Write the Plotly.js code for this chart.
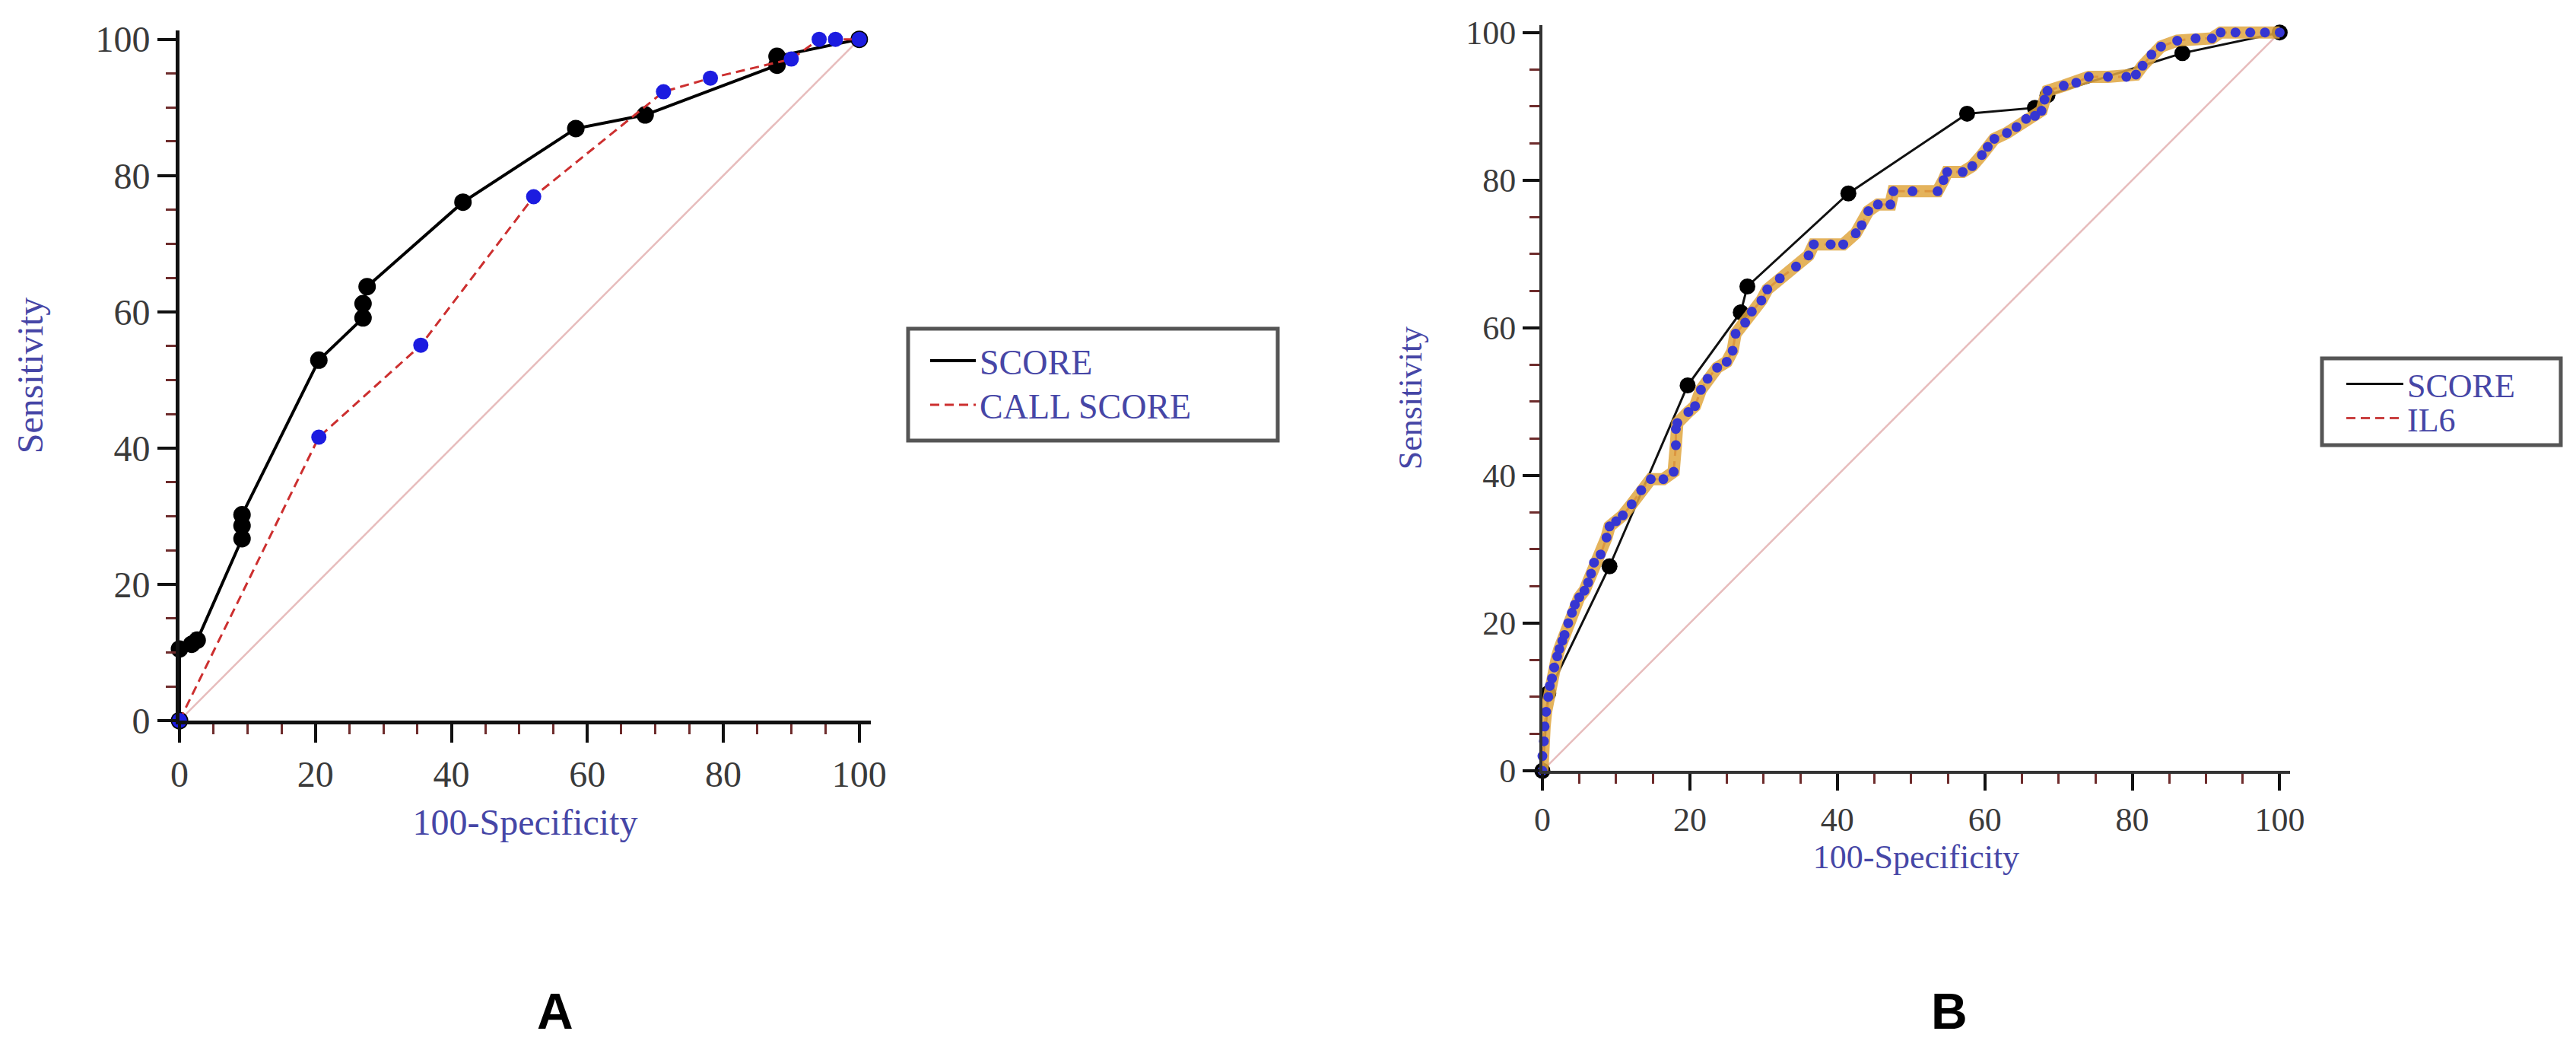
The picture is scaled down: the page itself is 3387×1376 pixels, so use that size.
<!DOCTYPE html>
<html>
<head>
<meta charset="utf-8">
<script src="https://cdn.plot.ly/plotly-3.0.1.min.js"></script>
<style>html,body{margin:0;padding:0;background:#fff;}#chart{width:3387px;height:1376px;}</style>
</head>
<body>
<div id="chart"></div>
<script>
// ---------- Panel A data ----------
const diagX = [0, 100];
const diagY = [0, 100];

const scoreAX = [0, 0, 1.8, 2.6, 9.2, 9.2, 9.2, 20.5, 27.0, 27.0, 27.6, 41.7, 58.3, 68.5, 87.9, 87.9, 100];
const scoreAY = [0, 10.5, 11.2, 11.8, 26.7, 28.6, 30.2, 52.9, 59.1, 61.2, 63.7, 76.1, 86.9, 88.9, 96.2, 97.5, 100];

const callX = [0, 20.5, 35.5, 52.1, 71.2, 78.1, 90.0, 94.1, 96.5, 100];
const callY = [0, 41.6, 55.1, 76.9, 92.3, 94.3, 97.1, 100, 100, 100];

// ---------- Panel B data ----------
const scoreBX = [0, 0.8, 9.1, 19.7, 26.9, 27.8, 41.5, 57.6, 66.8, 68.5, 86.8, 100];
const scoreBY = [0, 10.5, 27.7, 52.2, 62.1, 65.6, 78.2, 89.0, 89.8, 91.5, 97.2, 100];

const il6X = [0, 0, 0.2, 0.3, 0.5, 0.8, 1.0, 1.3, 1.6, 2.0, 2.3, 2.7, 3.0, 3.5, 4.0, 4.4, 5.0, 5.7, 6.2, 6.6,
  7.0, 7.9, 8.7, 9.1, 10.0, 10.9, 12.1, 13.4, 14.7, 16.4, 17.8, 18.1, 18.1, 18.3, 19.8, 20.7, 21.5, 22.4, 23.7, 25.0,
  25.8, 26.2, 27.5, 28.4, 29.7, 30.5, 32.2, 34.4, 36.1, 36.8, 39.1, 40.8, 42.5, 43.3, 44.2, 45.5, 47.2, 47.6, 50.2, 53.6,
  54.4, 54.9, 57.0, 58.3, 59.6, 60.4, 61.3, 63.0, 64.3, 65.6, 66.8, 67.7, 68.1, 68.5, 70.7, 72.4, 74.1, 76.7, 79.2, 80.5,
  81.4, 82.6, 83.9, 86.1, 88.6, 90.8, 92.0, 94.0, 96.0, 98.0, 100];
const il6Y = [0, 2, 4, 6, 8, 10, 11.5, 12.5, 14, 15.5, 16.5, 17.6, 18.4, 20, 21.4, 22.5, 23.5, 24.4, 25.5, 26.7,
  28.2, 29.3, 31.6, 33.1, 33.8, 34.6, 36.1, 38.0, 39.5, 39.5, 40.5, 44.1, 46.3, 47.1, 48.6, 49.4, 51.6, 53.1, 54.6, 55.4,
  56.9, 59.2, 60.7, 62.2, 63.7, 65.2, 66.7, 68.3, 69.8, 71.3, 71.3, 71.3, 72.8, 73.9, 75.8, 76.7, 76.7, 78.5, 78.5, 78.5,
  80.0, 81.1, 81.1, 81.9, 83.4, 84.5, 85.6, 86.4, 87.2, 88.3, 88.7, 89.4, 90.9, 92.1, 92.8, 93.2, 94.0, 94.0, 94.0, 94.3,
  95.5, 97.0, 98.1, 98.9, 99.2, 99.2, 100, 100, 100, 100, 100];

// ---------- Labels ----------
const xTitle = "100-Specificity";
const yTitle = "Sensitivity";
const tickVals = [0, 20, 40, 60, 80, 100];
const tickText = ["0", "20", "40", "60", "80", "100"];
const panelLabels = ["A", "B"];
const namesA = ["SCORE", "CALL SCORE"];
const namesB = ["SCORE", "IL6"];

// ---------- Styles ----------
const serif = "Liberation Serif, Times New Roman, serif";
const titleColor = "#4646a6";
const tickColor = "#3a3a3a";
const W = 3387, H = 1376;
const px = v => v / W;
const py = v => 1 - v / H;

const traces = [
  // Panel A
  {x: diagX, y: diagY, xaxis: "x", yaxis: "y", mode: "lines", line: {color: "#e7bcbc", width: 2.5}, showlegend: false, hoverinfo: "skip", cliponaxis: false},
  {x: scoreAX, y: scoreAY, xaxis: "x", yaxis: "y", mode: "lines", name: namesA[0], legend: "legend",
   line: {color: "#000000", width: 4}, cliponaxis: false},
  {x: scoreAX, y: scoreAY, xaxis: "x", yaxis: "y", mode: "markers", showlegend: false,
   marker: {color: "#000000", size: 23}, cliponaxis: false},
  {x: callX, y: callY, xaxis: "x", yaxis: "y", mode: "lines", name: namesA[1], legend: "legend2",
   line: {color: "#cc2f2f", width: 3, dash: "12px,7px"}, cliponaxis: false},
  {x: callX, y: callY, xaxis: "x", yaxis: "y", mode: "markers", showlegend: false,
   marker: {color: "#1c1ce0", size: 20}, cliponaxis: false},

  // Panel B
  {x: diagX, y: diagY, xaxis: "x2", yaxis: "y2", mode: "lines", line: {color: "#e7bcbc", width: 2.5}, showlegend: false, hoverinfo: "skip", cliponaxis: false},
  {x: scoreBX, y: scoreBY, xaxis: "x2", yaxis: "y2", mode: "lines", name: namesB[0], legend: "legend3",
   line: {color: "#111111", width: 3}, cliponaxis: false},
  {x: scoreBX, y: scoreBY, xaxis: "x2", yaxis: "y2", mode: "markers", showlegend: false,
   marker: {color: "#000000", size: 21}, cliponaxis: false},
  {x: il6X, y: il6Y, xaxis: "x2", yaxis: "y2", mode: "lines", name: namesB[1], legend: "legend4",
   line: {color: "#c94040", width: 3, dash: "12px,7px"}, cliponaxis: false},
  {x: il6X, y: il6Y, xaxis: "x2", yaxis: "y2", mode: "lines", showlegend: false,
   line: {color: "#e0a640", width: 16}, opacity: 0.85, cliponaxis: false},
  {x: il6X, y: il6Y, xaxis: "x2", yaxis: "y2", mode: "markers", showlegend: false,
   marker: {color: "#3636d2", size: 13}, cliponaxis: false}
];

function axis(domain, range, ticklen, fs, lw, lc, title, standoff) {
  return {
    domain: domain, range: range, showgrid: false, zeroline: false,
    showline: true, linecolor: lc, linewidth: lw,
    ticks: "outside", ticklen: ticklen, tickwidth: 4, tickcolor: "#111",
    tickmode: "array", tickvals: tickVals, ticktext: tickText,
    tickfont: {family: serif, size: fs, color: tickColor},
    minor: {dtick: 5, ticks: "outside", ticklen: 13, tickwidth: 3, tickcolor: "#6e2c2c"},
    title: {text: title, font: {family: serif, size: fs, color: titleColor}, standoff: standoff},
    fixedrange: true
  };
}

function legendAt(x, y, fs, iw) {
  return {
    x: px(x), y: py(y), xanchor: "left", yanchor: "middle",
    bgcolor: "rgba(0,0,0,0)", borderwidth: 0,
    font: {family: serif, size: fs, color: titleColor},
    itemwidth: iw
  };
}

const layout = {
  width: W, height: H,
  margin: {l: 0, r: 0, t: 0, b: 0},
  paper_bgcolor: "#ffffff", plot_bgcolor: "#ffffff",
  showlegend: true,
  xaxis: Object.assign(axis([px(236), px(1145)], [0, 101.7], 24, 48, 5, "#111", xTitle, 22), {anchor: "y"}),
  yaxis: Object.assign(axis([py(947), py(40)], [0, 101.3], 24, 48, 5, "#111", yTitle, 55), {anchor: "x"}),
  xaxis2: Object.assign(axis([px(2028), px(3011)], [0, 101.4], 22, 44, 4, "#333", xTitle, 10), {anchor: "y2"}),
  yaxis2: Object.assign(axis([py(1013), py(33)], [0, 101.0], 22, 44, 4, "#333", yTitle, 45), {anchor: "x2"}),
  legend: legendAt(1218, 474, 46, 60),
  legend2: legendAt(1218, 532, 46, 60),
  legend3: legendAt(3080, 505, 44, 75),
  legend4: legendAt(3080, 550, 44, 75),
  shapes: [
    {type: "rect", xref: "paper", yref: "paper", x0: px(1194), x1: px(1680), y0: py(579), y1: py(432),
     line: {color: "#555555", width: 5}, fillcolor: "rgba(0,0,0,0)", layer: "below"},
    {type: "rect", xref: "paper", yref: "paper", x0: px(3053), x1: px(3367), y0: py(585), y1: py(471),
     line: {color: "#555555", width: 5}, fillcolor: "rgba(0,0,0,0)", layer: "below"}
  ],
  annotations: [
    {text: panelLabels[0], xref: "paper", yref: "paper", x: px(730), y: py(1329), xanchor: "center", yanchor: "middle",
     showarrow: false, font: {family: "Liberation Sans, Arial, sans-serif", size: 66, color: "#000", weight: "bold"}},
    {text: panelLabels[1], xref: "paper", yref: "paper", x: px(2563), y: py(1329), xanchor: "center", yanchor: "middle",
     showarrow: false, font: {family: "Liberation Sans, Arial, sans-serif", size: 66, color: "#000", weight: "bold"}}
  ]
};

Plotly.newPlot("chart", traces, layout, {staticPlot: true, displayModeBar: false});
</script>
</body>
</html>
